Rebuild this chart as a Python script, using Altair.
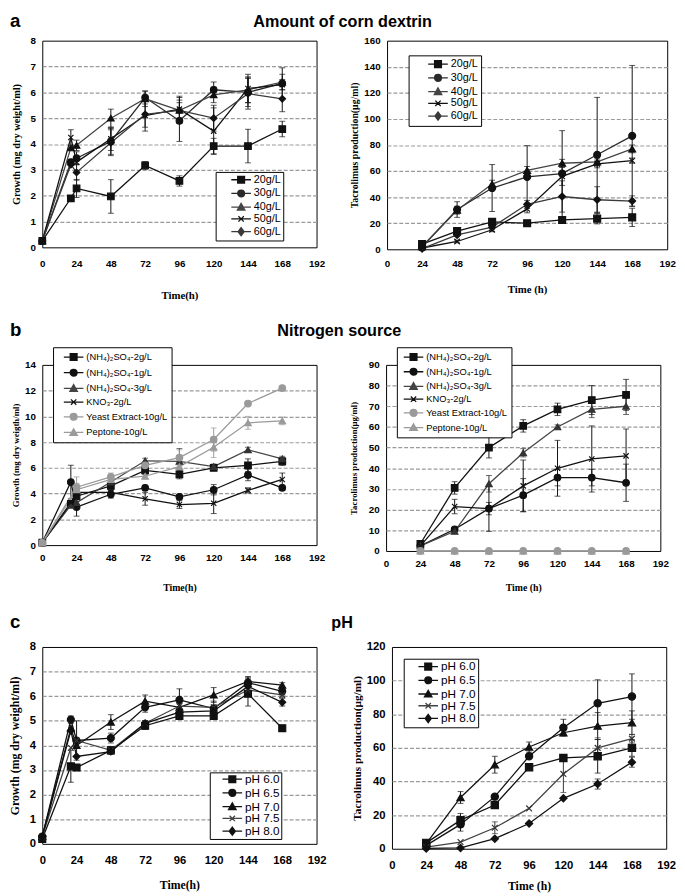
import altair as alt
import pandas as pd

SANS = "Liberation Sans"
SERIF = "Liberation Serif"

X_TICKS = [0, 24, 48, 72, 96, 120, 144, 168, 192]

# ---------------- a: amount of corn dextrin ----------------
A_NAMES = ["20g/L", "30g/L", "40g/L", "50g/L", "60g/L"]
A_KINDS = ["square", "circle", "triangle", "x", "diamond"]
A_LINE_COLORS = ["#111111", "#2a2a2a", "#444444", "#111111", "#3a3a3a"]
A_MARK_COLORS = ["#111111", "#111111", "#111111", "#111111", "#111111"]

GA_T = [0, 20, 24, 48, 72, 96, 120, 144, 168]
GA_20 = [0.25, 1.90, 2.28, 1.97, 3.17, 2.57, 3.92, 3.92, 4.58]
GA_20_E = [0, 0, 0.35, 0.65, 0.15, 0.20, 0.30, 0.65, 0.30]
GA_30 = [0.25, 3.30, 3.45, 4.10, 5.80, 4.90, 6.10, 6.00, 6.35]
GA_30_E = [0, 0, 0.25, 0.50, 0.25, 0.80, 0.30, 0.55, 0.60]
GA_40 = [0.25, 3.85, 3.95, 5.00, 5.75, 5.30, 5.90, 6.10, 6.40]
GA_40_E = [0, 0, 0.20, 0.35, 0.30, 0.30, 0.30, 0.50, 0.30]
GA_50 = [0.25, 4.25, 3.30, 4.20, 5.10, 5.35, 4.50, 6.15, 6.30]
GA_50_E = [0, 0.30, 0, 0.45, 0.60, 0.50, 0.90, 0.55, 0.20]
GA_60 = [0.25, 3.20, 2.90, 4.05, 5.15, 5.30, 5.00, 5.95, 5.75]
GA_60_E = [0, 0, 0.30, 0.50, 0.50, 0.50, 0.50, 0.60, 0.50]

PA_T = [24, 48, 72, 96, 120, 144, 168]
PA_20 = [4, 14, 21, 20, 22.5, 23.5, 24.5]
PA_20_E = [0, 1.5, 2, 1.5, 2, 4, 7]
PA_30 = [2, 30.5, 47, 55.5, 58, 72.5, 87]
PA_30_E = [0, 6, 18, 24, 33, 44, 54]
PA_40 = [2, 30, 50, 60.5, 66, 67, 77]
PA_40_E = [0, 3, 3, 3, 3, 3, 3]
PA_50 = [1, 6, 15, 31, 56, 65.5, 68]
PA_50_E = [0, 1, 1.5, 3, 7, 3, 2]
PA_60 = [0.5, 11, 17, 34.5, 40.5, 38, 37]
PA_60_E = [0, 1, 2, 3, 12, 10, 4]

# ---------------- b: nitrogen source ----------------
B_NAMES = ["(NH\u2084)\u2082SO\u2084-2g/L", "(NH\u2084)\u2082SO\u2084-1g/L", "(NH\u2084)\u2082SO\u2084-3g/L",
           "KNO\u2083-2g/L", "Yeast Extract-10g/L", "Peptone-10g/L"]
B_KINDS = ["square", "circle", "triangle", "x", "circle", "triangle"]
B_LINE_COLORS = ["#111111", "#111111", "#444444", "#111111", "#9a9a9a", "#9a9a9a"]
B_MARK_COLORS = ["#111111", "#111111", "#333333", "#111111", "#9a9a9a", "#9a9a9a"]

GB_T1 = [0, 20, 24, 48, 72, 96, 120, 144, 168]
GB_T2 = [0, 24, 48, 72, 96, 120, 144, 168]
GB_2 = [0.2, 3.2, 3.8, 4.6, 5.8, 5.5, 6.0, 6.2, 6.5]
GB_2_E = [0, 0, 0.4, 0.3, 0.3, 0.35, 0.2, 0.5, 0.3]
GB_1 = [0.2, 4.9, 2.95, 3.95, 4.45, 3.75, 4.3, 5.45, 4.45]
GB_1_E = [0, 1.3, 0.7, 0.3, 0.2, 0.2, 0.4, 0.45, 0.2]
GB_3 = [0.2, 3.1, 3.3, 4.9, 6.55, 6.5, 6.1, 7.4, 6.7]
GB_3_E = [0, 0, 0, 0.3, 0.2, 1.0, 0.2, 0.2, 0.2]
GB_K = [0.2, 3.3, 4.1, 4.1, 3.6, 3.15, 3.25, 4.25, 5.1]
GB_K_E = [0, 0, 0.3, 0.3, 0.5, 0.3, 0.8, 0.2, 0.5]
GB_Y = [0.2, 4.5, 5.3, 6.2, 6.8, 8.2, 11.0, 12.2]
GB_Y_E = [0, 0.8, 0.3, 0.3, 0.6, 0.9, 0.1, 0.1]
GB_P = [0.2, 4.3, 5.1, 5.35, 6.1, 7.6, 9.5, 9.65]
GB_P_E = [0, 0.5, 0.2, 0.2, 0.3, 0.8, 0.5, 0.3]

PB_T = [24, 48, 72, 96, 120, 144, 168]
PB_2 = [3.5, 30.5, 50, 60.5, 68.5, 73, 75.5]
PB_2_E = [0, 3, 5, 3, 3, 7, 7.5]
PB_1 = [2.5, 10.5, 20.5, 27, 35.5, 35.5, 33]
PB_1_E = [0, 1, 3, 8, 4, 4, 9]
PB_3 = [2.5, 9.5, 32.5, 47.5, 60, 68.5, 70]
PB_3_E = [0, 1, 4, 2, 1, 4, 4]
PB_K = [2.5, 21.5, 20.5, 31.5, 40, 44.5, 46]
PB_K_E = [0, 3.5, 11, 12.5, 13.5, 16, 13]
PB_Y = [0, 0, 0, 0, 0, 0, 0]
PB_Y_E = [0, 0, 0, 0, 0, 0, 0]
PB_P = [0, 0, 0, 0, 0, 0, 0]
PB_P_E = [0, 0, 0, 0, 0, 0, 0]

# ---------------- c: pH ----------------
C_NAMES = ["pH 6.0", "pH 6.5", "pH 7.0", "pH 7.5", "pH 8.0"]
C_KINDS = ["square", "circle", "triangle", "x", "diamond"]
C_LINE_COLORS = ["#111111", "#111111", "#111111", "#444444", "#111111"]
C_MARK_COLORS = ["#111111", "#111111", "#111111", "#333333", "#111111"]

GC_T = [0, 20, 24, 48, 72, 96, 120, 144, 168]
GC_60 = [0.2, 3.15, 3.1, 3.8, 4.8, 5.2, 5.2, 6.1, 4.7]
GC_60_E = [0, 0.65, 0, 0.15, 0.15, 0.15, 0.1, 0.5, 0]
GC_65 = [0.3, 5.05, 4.2, 4.3, 5.55, 5.85, 5.5, 6.55, 6.2]
GC_65_E = [0, 0.15, 0.8, 0.2, 0.2, 0.45, 0.3, 0.2, 0.15]
GC_70 = [0.3, 4.7, 4.0, 4.95, 5.8, 5.55, 6.05, 6.6, 6.45]
GC_70_E = [0, 0, 0, 0.3, 0.25, 0.2, 0.3, 0.2, 0.1]
GC_75 = [0.3, 3.9, 4.2, 3.8, 4.9, 5.6, 5.55, 6.25, 6.05]
GC_75_E = [0, 0, 0, 0.1, 0.1, 0.1, 0.1, 0.2, 0.1]
GC_80 = [0.3, 4.6, 3.55, 3.75, 4.9, 5.35, 5.4, 6.4, 5.75]
GC_80_E = [0, 0, 0, 0.1, 0.1, 0.1, 0.1, 0.3, 0.15]

PC_T = [24, 48, 72, 96, 120, 144, 168]
PC_60 = [3.5, 17, 26, 48.5, 54, 55, 60]
PC_60_E = [0, 4, 0, 0, 0, 10, 5]
PC_65 = [2, 14.5, 31, 55, 72, 86.5, 90.5]
PC_65_E = [0, 4, 0, 0, 5, 14, 13.5]
PC_70 = [3, 30.5, 50, 60.5, 69, 73, 75]
PC_70_E = [0, 3.5, 5, 3, 0, 8, 7]
PC_75 = [1, 4, 12.5, 24, 44.5, 60, 65.5]
PC_75_E = [0, 0, 3.5, 0, 11, 6, 2.5]
PC_80 = [0.2, 0.5, 6, 15, 30, 38.5, 51.5]
PC_80_E = [0, 0, 0, 0, 0, 3, 3]

# ---------------- helpers ----------------
DATA_SHAPES = {
    "square": "square",
    "circle": "circle",
    "triangle": "triangle-up",
    "diamond": "diamond",
    "x": "M-0.8,-0.8L0.8,0.8M-0.8,0.8L0.8,-0.8",
}
LEG_SIZE = 100


def legend_symbol(kind, cx=0.8):
    """legend glyph: a line with a (stroke-filled) marker, in symbol unit space"""
    parts = []
    for r in (0.7, 0.5, 0.3, 0.1):
        if kind == "square":
            parts.append(f"M{cx - r:.2f},{-r:.2f}H{cx + r:.2f}V{r:.2f}H{cx - r:.2f}Z")
        elif kind == "circle":
            parts.append(f"M{cx + r:.2f},0A{r:.2f} {r:.2f} 0 1 1 {cx - r:.2f},0"
                         f"A{r:.2f} {r:.2f} 0 1 1 {cx + r:.2f},0Z")
        elif kind == "triangle":
            parts.append(f"M{cx:.2f},{-1.1 * r:.2f}L{cx + 1.1 * r:.2f},{0.85 * r:.2f}"
                         f"L{cx - 1.1 * r:.2f},{0.85 * r:.2f}Z")
        elif kind == "diamond":
            parts.append(f"M{cx:.2f},{-1.2 * r:.2f}L{cx + 0.9 * r:.2f},0L{cx:.2f},{1.2 * r:.2f}"
                         f"L{cx - 0.9 * r:.2f},0Z")
    if kind == "x":
        parts = [f"M{cx - 0.55:.2f},-0.55L{cx + 0.55:.2f},0.55M{cx - 0.55:.2f},0.55L{cx + 0.55:.2f},-0.55"]
    return "M-1.2,0H2.8" + "".join(parts)


def make_df(names, times, values, errs):
    rows = []
    for n, ts, vs, es in zip(names, times, values, errs):
        for t, v, e in zip(ts, vs, es):
            rows.append({"s": n, "t": t, "v": v, "lo": v - e, "hi": v + e, "e": e})
    return pd.DataFrame(rows)


def panel(df, names, kinds, line_cols, mark_cols, ymax, ystep, w, h,
          ytitle, xtitle, st, leg, letter=None):
    xs = alt.Scale(domain=[0, 192], nice=False, zero=False)
    ys = alt.Scale(domain=[0, ymax], nice=False)
    xaxis = alt.Axis(values=X_TICKS, title=xtitle, grid=False, ticks=False, domain=False,
                     labelFont=SANS, labelFontWeight="bold", labelFontSize=st["lab"],
                     labelColor="black", labelPadding=st["xlp"], labelFlush=False,
                     titleFont=SERIF, titleFontWeight="bold", titleFontSize=st["xt"],
                     titleColor="black", titlePadding=st["xtp"])
    yaxis = alt.Axis(values=list(range(0, ymax + 1, ystep)), title=ytitle, ticks=False, domain=False,
                     grid=True, gridColor="#9a9a9a", gridDash=[4, 2], gridWidth=1.2,
                     gridOpacity={"condition": {"test": f"datum.value <= 0 || datum.value >= {ymax}",
                                                "value": 0}, "value": 1},
                     labelFont=SANS, labelFontWeight="bold", labelFontSize=st["lab"],
                     labelColor="black", labelPadding=7, minExtent=st["ymin"],
                     titleFont=SERIF, titleFontWeight="bold", titleFontSize=st["yt"],
                     titleColor="black", titlePadding=st["ytp"])

    def X(f="t"):
        return alt.X(f"{f}:Q", scale=xs, axis=xaxis)

    def Y(f="v"):
        return alt.Y(f"{f}:Q", scale=ys, axis=yaxis)

    line_scale = alt.Scale(domain=names, range=line_cols)
    mark_scale = alt.Scale(domain=names, range=mark_cols)
    shape_scale = alt.Scale(domain=names, range=[DATA_SHAPES[k] for k in kinds])
    leg_scale = alt.Scale(domain=names, range=[legend_symbol(k) for k in kinds])
    leg_color_scale = alt.Scale(domain=names, range=line_cols)

    base = alt.Chart(df)
    err = base.transform_filter("datum.e > 0")
    rules = err.mark_rule(strokeWidth=1).encode(
        x=X(), y=Y("lo"), y2="hi:Q",
        color=alt.Color("s:N", scale=mark_scale, legend=None))
    cap_lo = err.mark_tick(orient="horizontal", size=6, thickness=1).encode(
        x=X(), y=Y("lo"), color=alt.Color("s:N", scale=mark_scale, legend=None))
    cap_hi = err.mark_tick(orient="horizontal", size=6, thickness=1).encode(
        x=X(), y=Y("hi"), color=alt.Color("s:N", scale=mark_scale, legend=None))
    lines = base.mark_line(strokeWidth=1.3).encode(
        x=X(), y=Y(), color=alt.Color("s:N", scale=line_scale, legend=None))
    pts = base.mark_point(filled=True, size=st["msize"], strokeWidth=1.2, opacity=1).encode(
        x=X(), y=Y(),
        shape=alt.Shape("s:N", scale=shape_scale, legend=None),
        fill=alt.Fill("s:N", scale=mark_scale, legend=None),
        stroke=alt.Stroke("s:N", scale=mark_scale, legend=None))
    pad_txt = "\u00a0" * leg["trail"]
    legend = alt.Legend(title=None, orient="none", legendX=leg["x"], legendY=leg["y"],
                        labelFont=SANS, labelFontSize=leg["fs"], labelColor="black",
                        labelExpr=f"datum.label + '{pad_txt}'",
                        labelLimit=400, labelOffset=11, symbolSize=LEG_SIZE, symbolStrokeWidth=1.3,
                        symbolOffset=leg["so"],
                        symbolOpacity=1, strokeColor="black", fillColor="white",
                        padding=leg["pad"], rowPadding=leg["rp"], cornerRadius=0)
    leg_layer = base.transform_filter("false").mark_point(
        filled=False, size=LEG_SIZE, strokeWidth=1.3, opacity=1).encode(
        x=X(), y=Y(),
        shape=alt.Shape("s:N", scale=leg_scale, legend=legend),
        color=alt.Color("s:N", scale=leg_color_scale, legend=legend))
    layers = [rules, cap_lo, cap_hi, lines, pts, leg_layer]
    if letter is not None:
        txt = alt.Chart(pd.DataFrame({"l": [letter]})).mark_text(
            font=SANS, fontSize=19, fontWeight="bold", align="left", baseline="middle",
            color="black").encode(text="l:N", x=alt.value(-33), y=alt.value(st["ly"]))
        layers.append(txt)
    return alt.layer(*layers).resolve_scale(
        color="independent", fill="independent", stroke="independent", shape="independent"
    ).properties(width=w, height=h)


ST_A_L = dict(lab=10, xlp=12, xt=11, xtp=21, yt=10.5, ytp=4.5, ymin=17, msize=45, ly=-20)
ST_A_R = dict(lab=10, xlp=10, xt=11, xtp=15, yt=10, ytp=3.5, ymin=25, msize=50, ly=-20)
ST_B_L = dict(lab=10, xlp=8, xt=10, xtp=20, yt=9, ytp=4.5, ymin=17, msize=45, ly=-35)
ST_B_R = dict(lab=10, xlp=8, xt=10, xtp=14, yt=9, ytp=3.5, ymin=25, msize=45, ly=-35)
ST_C_L = dict(lab=11.5, xlp=11, xt=12, xtp=14, yt=12, ytp=4.5, ymin=17, msize=50, ly=-25)
ST_C_R = dict(lab=11.5, xlp=11, xt=12, xtp=10.5, yt=11.5, ytp=3.5, ymin=25, msize=55, ly=-25)

df_ga = make_df(A_NAMES, [GA_T] * 5, [GA_20, GA_30, GA_40, GA_50, GA_60],
                [GA_20_E, GA_30_E, GA_40_E, GA_50_E, GA_60_E])
df_pa = make_df(A_NAMES, [PA_T] * 5, [PA_20, PA_30, PA_40, PA_50, PA_60],
                [PA_20_E, PA_30_E, PA_40_E, PA_50_E, PA_60_E])
df_gb = make_df(B_NAMES, [GB_T1, GB_T1, GB_T1, GB_T1, GB_T2, GB_T2],
                [GB_2, GB_1, GB_3, GB_K, GB_Y, GB_P],
                [GB_2_E, GB_1_E, GB_3_E, GB_K_E, GB_Y_E, GB_P_E])
df_pb = make_df(B_NAMES, [PB_T] * 6, [PB_2, PB_1, PB_3, PB_K, PB_Y, PB_P],
                [PB_2_E, PB_1_E, PB_3_E, PB_K_E, PB_Y_E, PB_P_E])
df_gc = make_df(C_NAMES, [GC_T] * 5, [GC_60, GC_65, GC_70, GC_75, GC_80],
                [GC_60_E, GC_65_E, GC_70_E, GC_75_E, GC_80_E])
df_pc = make_df(C_NAMES, [PC_T] * 5, [PC_60, PC_65, PC_70, PC_75, PC_80],
                [PC_60_E, PC_65_E, PC_70_E, PC_75_E, PC_80_E])

a_left = panel(df_ga, A_NAMES, A_KINDS, A_LINE_COLORS, A_MARK_COLORS, 8, 1, 280, 211,
               "Growth  (mg dry weight/ml)", "Time(h)", ST_A_L,
               dict(x=177, y=134, fs=11, pad=2, rp=0, so=14, trail=5), letter="a")
a_right = panel(df_pa, A_NAMES, A_KINDS, A_LINE_COLORS, A_MARK_COLORS, 160, 20, 286, 213,
                "Tacrolimus  production(\u03bcg/ml)", "Time (h)", ST_A_R,
                dict(x=22, y=15, fs=11, pad=3, rp=0, so=17, trail=0))
b_left = panel(df_gb, B_NAMES, B_KINDS, B_LINE_COLORS, B_MARK_COLORS, 14, 2, 280, 184,
               "Growth  (mg dry weigth/ml)", "Time(h)", ST_B_L,
               dict(x=11, y=-18, fs=9.5, pad=4, rp=2, so=7, trail=0), letter="b")
b_right = panel(df_pb, B_NAMES, B_KINDS, B_LINE_COLORS, B_MARK_COLORS, 90, 10, 280, 190,
                "Tacrolimus  production(\u03bcg/ml)", "Time (h)", ST_B_R,
                dict(x=11, y=-18, fs=9.5, pad=4, rp=1, so=3, trail=0))
c_left = panel(df_gc, C_NAMES, C_KINDS, C_LINE_COLORS, C_MARK_COLORS, 8, 1, 280, 201,
               "Growth  (mg dry weight/ml)", "Time(h)", ST_C_L,
               dict(x=171, y=128, fs=12, pad=1, rp=0, so=12, trail=4), letter="c")
c_right = panel(df_pc, C_NAMES, C_KINDS, C_LINE_COLORS, C_MARK_COLORS, 120, 20, 280, 206,
                "Tacrolimus  production(\u03bcg/ml)", "Time (h)", ST_C_R,
                dict(x=12, y=12, fs=12, pad=2, rp=0, so=13, trail=0))


def row(l, r, text):
    return alt.hconcat(l, r, spacing=24, title=alt.TitleParams(
        text, anchor="middle", font=SANS, fontSize=16.5, fontWeight="bold", color="black",
        offset=-19))


chart = alt.vconcat(
    row(a_left, a_right, "Amount of corn dextrin"),
    row(b_left, b_right, "Nitrogen source"),
    row(c_left, c_right, "pH"),
    spacing=20,
).properties(
    padding={"top": -6, "left": 0, "right": 0, "bottom": 0}, background="white"
).configure_view(stroke="black", strokeWidth=1)

chart.save("out.html", embed_options={"renderer": "svg", "actions": False})
